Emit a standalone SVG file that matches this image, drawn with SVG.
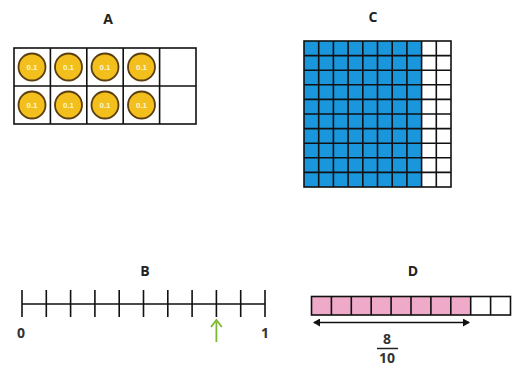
<svg xmlns="http://www.w3.org/2000/svg" width="517" height="367" viewBox="0 0 517 367">
<style>
.lbl{font-family:"Open Sans","Liberation Sans",sans-serif;font-weight:bold;font-size:14px;fill:#222;text-anchor:middle}
.num{font-family:"Open Sans","Liberation Sans",sans-serif;font-weight:bold;font-size:14px;fill:#333;text-anchor:middle}
.ln{stroke:#111;stroke-width:1.6;fill:none}
.cnt{fill:#f2bf1c;stroke:#5a3d10;stroke-width:1.8}
.ct{font-family:"Liberation Sans",sans-serif;font-weight:bold;font-size:8px;fill:#fff6d0;text-anchor:middle}
</style>
<defs>
<marker id="ah" markerWidth="8" markerHeight="8" refX="6" refY="4" orient="auto-start-reverse" markerUnits="userSpaceOnUse">
<path d="M0,0 L7,4 L0,8 Z" fill="#111"/>
</marker>
<g id="counter"><circle r="13.5" class="cnt"/><text y="3" class="ct">0.1</text></g>
</defs>
<rect width="517" height="367" fill="#fff"/>

<g id="A">
<text x="108" y="24" class="lbl">A</text>
<rect x="14" y="48" width="182" height="76" class="ln"/>
<path class="ln" d="M14,86H196M50.4,48V124M86.8,48V124M123.2,48V124M159.6,48V124"/>
<use href="#counter" x="32" y="67"/><use href="#counter" x="68.5" y="67"/><use href="#counter" x="105" y="67"/><use href="#counter" x="141.5" y="67"/>
<use href="#counter" x="32" y="105"/><use href="#counter" x="68.5" y="105"/><use href="#counter" x="105" y="105"/><use href="#counter" x="141.5" y="105"/>
</g>

<g id="C">
<text x="373" y="22" class="lbl">C</text>
<rect x="304" y="41" width="117.6" height="146" fill="#1a96dc"/>
<rect x="304" y="41" width="147" height="146" class="ln"/>
<path class="ln" d="M318.7,41V187M333.4,41V187M348.1,41V187M362.8,41V187M377.5,41V187M392.2,41V187M406.9,41V187M421.6,41V187M436.3,41V187M304,55.6H451M304,70.2H451M304,84.8H451M304,99.4H451M304,114H451M304,128.6H451M304,143.2H451M304,157.8H451M304,172.4H451"/>
</g>

<g id="B">
<text x="145" y="276" class="lbl">B</text>
<path class="ln" d="M22,304H265M22,290V317M46.3,290V317M70.6,290V317M94.9,290V317M119.2,290V317M143.5,290V317M167.8,290V317M192.1,290V317M216.4,290V317M240.7,290V317M265,290V317"/>
<text x="21" y="338" class="num">0</text>
<text x="265" y="338" class="num">1</text>
<path d="M216.4,342V322" stroke="#7cb82f" stroke-width="1.8"/>
<path d="M211,327L216.4,320L221.8,327" stroke="#7cb82f" stroke-width="1.8" fill="none"/>
</g>

<g id="D">
<text x="413" y="276" class="lbl">D</text>
<rect x="311.5" y="296.5" width="159.2" height="18.5" fill="#eeaac8"/>
<rect x="311.5" y="296.5" width="199" height="18.5" class="ln"/>
<path class="ln" d="M331.4,296.5V315M351.3,296.5V315M371.2,296.5V315M391.1,296.5V315M411,296.5V315M430.9,296.5V315M450.8,296.5V315M470.7,296.5V315M490.6,296.5V315"/>
<path d="M314,322.5H469" stroke="#111" stroke-width="1.6" marker-start="url(#ah)" marker-end="url(#ah)"/>
<text x="387" y="344" class="num">8</text>
<path d="M377,348.5H398" stroke="#222" stroke-width="1.5"/>
<text x="387" y="363" class="num">10</text>
</g>
</svg>
